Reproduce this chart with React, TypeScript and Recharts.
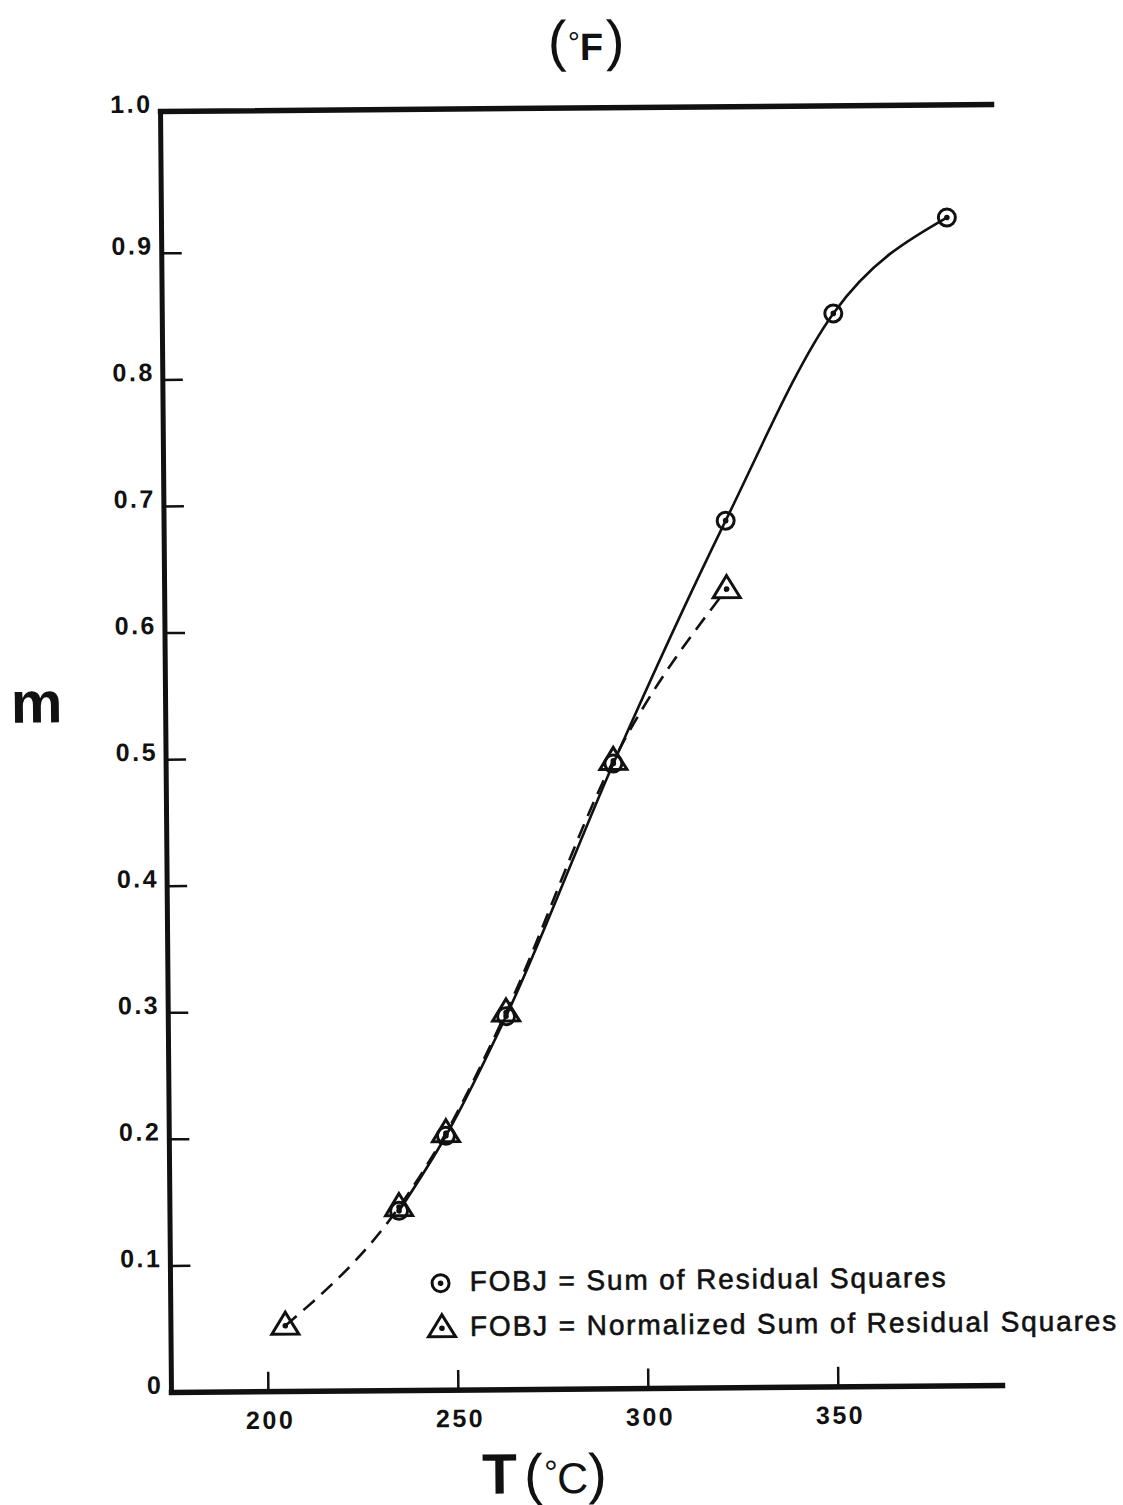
import { Line, LineChart, XAxis, YAxis } from "recharts";

// values (T in °C, m dimensionless)
const circleTemps = [234.8, 247.3, 263.4, 292.2, 322.3, 351.1, 381.2];
const circleM = [0.142, 0.201, 0.295, 0.494, 0.685, 0.848, 0.923];
const triangleTemps = [204.6, 234.8, 247.3, 263.4, 292.2, 322.4];
const triangleM = [0.052, 0.145, 0.203, 0.298, 0.496, 0.631];

const celsiusTicks = [200, 250, 300, 350];
const fahrenheitTicks = [400, 500, 600, 700];
const mTop = 1.012;
const mTicks = [0, 0.1, 0.2, 0.3, 0.4, 0.5, 0.6, 0.7, 0.8, 0.9, mTop];

const sumSeries = circleTemps.map((t, i) => ({ t, m: circleM[i] }));
const normSeries = triangleTemps.map((t, i) => ({ t, m: triangleM[i] }));

const FONT = "'Liberation Sans', Arial, Helvetica, sans-serif";
const INK = "#111";

const fmtM = (v: number) => (v === 0 ? "0" : v >= 1 ? "1.0" : v.toFixed(1));

const tickText = { fontFamily: FONT, fontWeight: "bold", fontSize: 25, letterSpacing: 2.5, fill: INK };

function YTick({ x, y, payload }: any) {
  const v = payload.value as number;
  return (
    <g>
      {v < 1 && v > 0 && (
        <line x1={x} y1={y} x2={x + 20} y2={y} stroke={INK} strokeWidth={2.5} />
      )}
      <text x={x - 8} y={y + 1} textAnchor="end" {...tickText}>
        {fmtM(v)}
      </text>
    </g>
  );
}

function BottomTick({ x, y, payload }: any) {
  return (
    <g>
      <line x1={x} y1={y} x2={x} y2={y - 20} stroke={INK} strokeWidth={2.5} />
      <text x={x + 2} y={y + 37} textAnchor="middle" {...tickText}>
        {payload.value}
      </text>
    </g>
  );
}

function TopTick({ x, y, payload }: any) {
  return (
    <g>
      <line x1={x} y1={y} x2={x} y2={y + 20} stroke={INK} strokeWidth={2.5} />
      <text x={x + 1} y={y - 8} textAnchor="middle" {...tickText}>
        {payload.value}
      </text>
    </g>
  );
}

function CircleMark({ cx, cy }: { cx: number; cy: number }) {
  return (
    <g>
      <circle cx={cx} cy={cy} r={8.5} fill="none" stroke={INK} strokeWidth={3} />
      <circle cx={cx} cy={cy} r={2.8} fill={INK} />
    </g>
  );
}

function TriangleMark({ cx, cy }: { cx: number; cy: number }) {
  const pts = `${cx},${cy - 13.5} ${cx - 13.5},${cy + 8.5} ${cx + 13.5},${cy + 8.5}`;
  return (
    <g>
      <polygon points={pts} fill="none" stroke={INK} strokeWidth={3} />
      <circle cx={cx} cy={cy} r={2.8} fill={INK} />
    </g>
  );
}

const circleDot = (p: any) => <CircleMark key={`c${p.index}`} cx={p.cx} cy={p.cy} />;
const triangleDot = (p: any) => <TriangleMark key={`t${p.index}`} cx={p.cx} cy={p.cy} />;

const legendText = { fontFamily: FONT, fontSize: 28, letterSpacing: 1.9, fill: INK, stroke: INK, strokeWidth: 0.6 };

export default function App() {
  return (
    <div
      style={{
        position: "absolute",
        left: 0,
        top: 0,
        width: 1123,
        height: 1505,
        background: "#fff",
        transform: "rotate(-0.49deg)",
        transformOrigin: "581px 749px",
      }}
    >
      <LineChart width={1123} height={1505} margin={{ top: 78, right: 126, bottom: 86, left: 106 }}>
        <XAxis
          xAxisId="c"
          type="number"
          dataKey="t"
          domain={[174.5, 393.2]}
          ticks={celsiusTicks}
          interval={0}
          allowDataOverflow
          height={30}
          tickSize={0}
          tickMargin={0}
          tickLine={false}
          tick={BottomTick}
          axisLine={{ stroke: INK, strokeWidth: 5.5, strokeLinecap: "square" }}
        />
        <XAxis
          xAxisId="f"
          orientation="top"
          type="number"
          domain={[346.25, 720]}
          ticks={fahrenheitTicks}
          interval={0}
          allowDataOverflow
          height={30}
          tickSize={0}
          tickMargin={0}
          tickLine={false}
          tick={TopTick}
          axisLine={{ stroke: INK, strokeWidth: 5.5, strokeLinecap: "square" }}
        />
        <YAxis
          type="number"
          domain={[0, mTop]}
          ticks={mTicks}
          interval={0}
          allowDataOverflow
          width={60}
          tickSize={0}
          tickMargin={0}
          tickLine={false}
          tick={YTick}
          axisLine={{ stroke: INK, strokeWidth: 5, strokeLinecap: "square" }}
        />
        <Line
          xAxisId="c"
          data={sumSeries}
          dataKey="m"
          type="monotone"
          stroke={INK}
          strokeWidth={2.6}
          dot={circleDot}
          activeDot={false}
          isAnimationActive={false}
        />
        <Line
          xAxisId="c"
          data={normSeries}
          dataKey="m"
          type="monotone"
          stroke={INK}
          strokeWidth={2.6}
          strokeDasharray="15 9"
          dot={triangleDot}
          activeDot={false}
          isAnimationActive={false}
        />
      </LineChart>
      <svg
        width={1123}
        height={1505}
        style={{ position: "absolute", left: 0, top: 0, pointerEvents: "none" }}
      >
        {/* legend */}
        <CircleMark cx={436} cy={1282} />
        <text x={465} y={1290} {...legendText}>FOBJ = Sum of Residual Squares</text>
        <TriangleMark cx={437} cy={1327} />
        <text x={465} y={1335} {...legendText}>FOBJ = Normalized Sum of Residual Squares</text>

        {/* axis titles */}
        <text x={37} y={718} textAnchor="middle" fontFamily={FONT} fontWeight="bold" fontSize={58} fill={INK}>
          m
        </text>
        <text y={1493} fontFamily={FONT} fill={INK}>
          <tspan x={476} fontWeight="bold" fontSize={57}>T</tspan>
          <tspan x={518} fontSize={56}>(</tspan>
          <tspan x={538} dy={-9} fontSize={34}>°</tspan>
          <tspan x={551} dy={9} fontSize={43}>C</tspan>
          <tspan x={582} fontSize={56}>)</tspan>
        </text>
        <text y={60} fontFamily={FONT} fill={INK}>
          <tspan x={554} fontSize={56}>(</tspan>
          <tspan x={574} dy={-7} fontSize={30}>°</tspan>
          <tspan x={586} dy={7} fontWeight="bold" fontSize={38}>F</tspan>
          <tspan x={612} fontSize={56}>)</tspan>
        </text>
      </svg>
    </div>
  );
}
